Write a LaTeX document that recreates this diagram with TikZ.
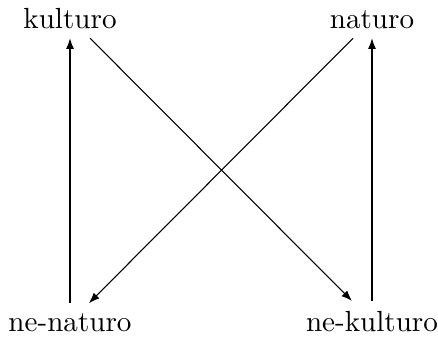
\documentclass[tikz,border=0pt]{standalone}
\usepackage{tikz}
\usetikzlibrary{arrows.meta,positioning}

\begin{document}
\begin{tikzpicture}[
    x=0.3744pt, y=-0.3744pt,
    font=\fontsize{10.9}{13}\selectfont,
    term/.style={inner sep=3.5pt, anchor=base},
    arrow/.style={-{Latex[length=4pt, width=3pt]}}
]
\useasboundingbox (0,0) rectangle (438,338);
\node[term] (kul) at (70,28) {kulturo};
\node[term] (nat) at (372,28) {naturo};
\node[term] (nenat) at (70,331) {ne-naturo};
\node[term] (nekul) at (372,331) {ne-kulturo};

\draw[arrow] (nenat) -- (kul);
\draw[arrow] (nekul) -- (nat);
\draw[arrow] (kul) -- (nekul);
\draw[arrow] (nat) -- (nenat);
\end{tikzpicture}
\end{document}
